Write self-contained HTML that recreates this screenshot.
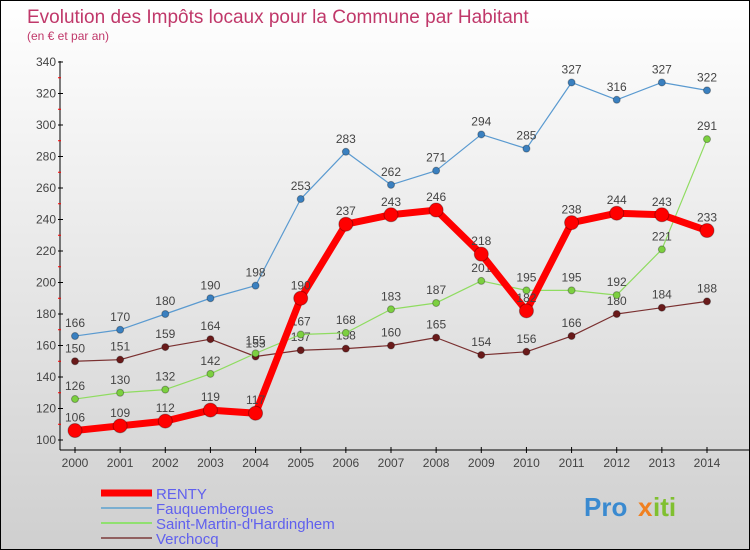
<!DOCTYPE html>
<html><head><meta charset="utf-8"><style>
body{margin:0}
#c{width:748px;height:548px;border:1px solid #000;background:linear-gradient(#fff,#cfcfcf);position:relative;overflow:hidden;font-family:"Liberation Sans",sans-serif}
</style></head><body>
<div id="c">
<svg id="s" width="748" height="548"></svg>
</div>
<script>
const years=[2000,2001,2002,2003,2004,2005,2006,2007,2008,2009,2010,2011,2012,2013,2014];
const renty=[106,109,112,119,117,190,237,243,246,218,182,238,244,243,233];
const fauq=[166,170,180,190,198,253,283,262,271,294,285,327,316,327,322];
const smh=[126,130,132,142,155,167,168,183,187,201,195,195,192,221,291];
const verch=[150,151,159,164,153,157,158,160,165,154,156,166,180,184,188];
const yTicks=[100,120,140,160,180,200,220,240,260,280,300,320,340];
const NS='http://www.w3.org/2000/svg';
const s=document.getElementById('s');
function X(i){return 74+i*(632/14);}
function Y(v){return 439-(v-100)*(378/240);}
function el(t,a,txt){const e=document.createElementNS(NS,t);for(const k in a)e.setAttribute(k,a[k]);if(txt!==undefined)e.textContent=txt;s.appendChild(e);return e;}
let e;
e=el('text',{x:26,y:22,fill:'#c0386a','font-size':19},'Evolution des Impôts locaux pour la Commune par Habitant');


e=el('text',{x:26,y:39,fill:'#c0386a','font-size':12},'(en € et par an)');


e=el('line',{x1:59,y1:60,x2:59,y2:449,stroke:'#000','stroke-width':1});


e=el('line',{x1:59,y1:449,x2:748,y2:449,stroke:'#000','stroke-width':1});


yTicks.forEach(v=>{
 el('line',{x1:57,y1:Y(v),x2:62,y2:Y(v),stroke:'#000'});
 if(v<340)el('line',{x1:57,y1:Y(v+10),x2:60,y2:Y(v+10),stroke:'#f00'});
 e=el('text',{x:55,y:Y(v)+4,'text-anchor':'end','font-size':12,fill:'#444'},v);
 
 
});
years.forEach((yr,i)=>{
 el('line',{x1:X(i),y1:446,x2:X(i),y2:452,stroke:'#000'});
 e=el('text',{x:X(i),y:466,'text-anchor':'middle','font-size':12,fill:'#444'},yr);
 
 
});
function series(d,col,w,r,name,dot){
 const g=document.createElementNS(NS,'g');s.appendChild(g);
 
 
 const p=document.createElementNS(NS,'polyline');
 p.setAttribute('points',d.map((v,i)=>X(i)+','+Y(v)).join(' '));
 p.setAttribute('fill','none');p.setAttribute('stroke',col);p.setAttribute('stroke-width',w);p.setAttribute('stroke-linejoin','round');
 g.appendChild(p);
 d.forEach((v,i)=>{
  const c=document.createElementNS(NS,'circle');
  c.setAttribute('cx',X(i));c.setAttribute('cy',Y(v));c.setAttribute('r',r);c.setAttribute('fill',dot);c.setAttribute('stroke','rgba(0,0,0,0.3)');
  
  
  g.appendChild(c);
  const t=document.createElementNS(NS,'text');
  t.setAttribute('x',X(i));t.setAttribute('y',Y(v)-9);t.setAttribute('text-anchor','middle');t.setAttribute('font-size',12);t.setAttribute('fill','#444');
  t.textContent=v;
  
  
  g.appendChild(t);
 });
}
series(verch,'#7a3030',1.2,3.5,'verchocq','#6a1a1a');
series(smh,'#8fdc60',1.2,3.5,'saint-martin','#7cd040');
series(fauq,'#5a9ad0',1.2,3.5,'fauquembergues','#3a80c0');
series(renty,'#f00',7,7,'renty','#f00');
const leg=[['RENTY','#f00',7],['Fauquembergues','#7aaed0',2],['Saint-Martin-d\'Hardinghem','#90e070',2],['Verchocq','#906060',2]];
leg.forEach((l,i)=>{
 const y=492+i*15;
 e=el('line',{x1:100,y1:y,x2:151,y2:y,stroke:l[1],'stroke-width':l[2]});
 
 
 e=el('text',{x:155,y:y+6,'font-size':15,fill:'#6060ee'},l[0]);
 
 
});
e=el('text',{x:583,y:515,'font-size':26,'font-weight':'bold',fill:'#3a8ad0'},'Pro');


e=el('text',{x:637,y:515,'font-size':26,'font-weight':'bold',fill:'#f08020'},'x');


e=el('text',{x:652,y:515,'font-size':26,'font-weight':'bold',fill:'#80c030'},'iti');


</script>
</body></html>
